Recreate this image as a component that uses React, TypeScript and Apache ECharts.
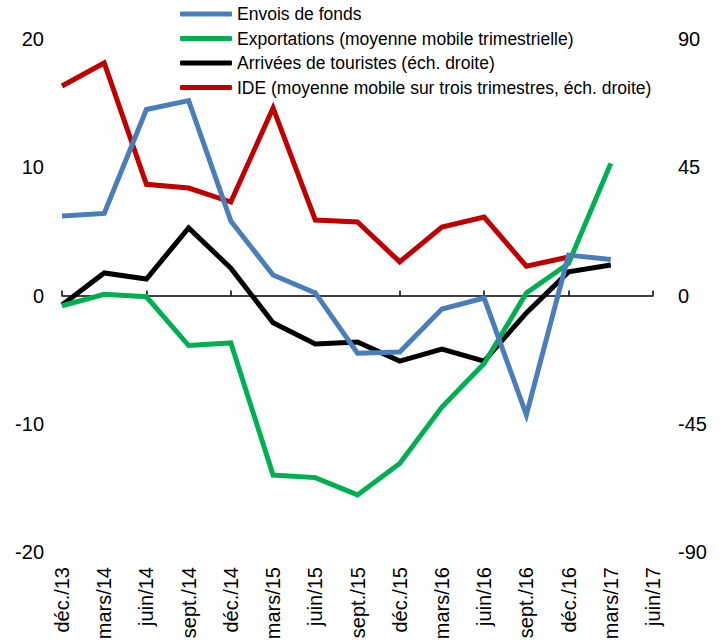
import React, { useEffect, useRef } from "react";
import * as echarts from "echarts";

const categories = ["déc./13", "mars/14", "juin/14", "sept./14", "déc./14", "mars/15", "juin/15", "sept./15", "déc./15", "mars/16", "juin/16", "sept./16", "déc./16", "mars/17", "juin/17"];
const envoisDeFonds = [6.2, 6.4, 14.5, 15.2, 5.8, 1.6, 0.2, -4.5, -4.4, -1.05, -0.2, -9.3, 3.15, 2.8, null];
const exportations = [-0.8, 0.1, -0.1, -3.9, -3.7, -14.0, -14.2, -15.55, -13.1, -8.7, -5.3, 0.2, 2.5, 10.3, null];
const arriveesTouristes = [-3.3, 7.9, 5.8, 23.7, 9.6, -9.6, -17, -16.3, -23, -18.8, -23, -6.1, 8.3, 10.7, null];
const ide = [73.5, 81.6, 39, 37.7, 32.8, 65.8, 26.5, 25.8, 11.8, 24, 27.5, 10.3, 13.5, null, null];

const leftTicks = { min: -20, max: 20, interval: 10 };
const rightTicks = { min: -90, max: 90, interval: 45 };

const seriesNames = [
  "Envois de fonds",
  "Exportations (moyenne mobile trimestrielle)",
  "Arrivées de touristes (éch. droite)",
  "IDE (moyenne mobile sur trois trimestres, éch. droite)",
];
const colors = ["#4A7EBB", "#00B050", "#000000", "#C00000"];

export default function App() {
  const ref = useRef<HTMLDivElement>(null);
  useEffect(() => {
    if (!ref.current) return;
    const chart = echarts.init(ref.current, null, { renderer: "svg" });
    const font = "'Liberation Sans', Arial, sans-serif";
    const mk = (i: number, data: (number | null)[], yAxisIndex: number) => ({
      name: seriesNames[i],
      type: "line",
      data,
      xAxisIndex: 0,
      yAxisIndex,
      symbol: "none",
      lineStyle: { color: colors[i], width: 5, join: "miter", cap: "butt" },
      itemStyle: { color: colors[i] },
      z: 10 - i,
    });
    chart.setOption({
      animation: false,
      backgroundColor: "#ffffff",
      grid: { left: 62, right: 68, top: 39, bottom: 89, containLabel: false, outerBoundsMode: "none" },
      legend: {
        orient: "vertical",
        left: 180,
        top: 4,
        padding: 0,
        icon: "roundRect",
        itemWidth: 52,
        itemHeight: 5,
        itemGap: 4.5,
        data: seriesNames,
        textStyle: {
          fontFamily: font,
          fontSize: 17.5,
          lineHeight: 20,
          color: "#000",
        },
      },
      xAxis: [
        {
          type: "category",
          data: categories,
          boundaryGap: false,
          axisLine: { onZero: true, lineStyle: { color: "#000", width: 1.5 } },
          axisTick: { show: true, inside: true, length: 5, lineStyle: { color: "#000", width: 1.5 } },
          axisLabel: { show: false },
          splitLine: { show: false },
        },
        {
          type: "category",
          data: categories,
          boundaryGap: false,
          position: "bottom",
          axisLine: { show: false, onZero: false },
          axisTick: { show: false },
          axisLabel: {
            show: true,
            rotate: 90,
            interval: 0,
            margin: 15,
            fontFamily: font,
            fontSize: 20,
            color: "#000",
          },
          splitLine: { show: false },
        },
      ],
      yAxis: [
        {
          type: "value",
          ...leftTicks,
          position: "left",
          axisLine: { show: false },
          axisTick: { show: false },
          splitLine: { show: false },
          axisLabel: { margin: 18, fontFamily: font, fontSize: 20, color: "#000" },
        },
        {
          type: "value",
          ...rightTicks,
          position: "right",
          axisLine: { show: false },
          axisTick: { show: false },
          splitLine: { show: false },
          axisLabel: { margin: 25, fontFamily: font, fontSize: 20, color: "#000" },
        },
      ],
      series: [
        mk(0, envoisDeFonds, 0),
        mk(1, exportations, 0),
        mk(2, arriveesTouristes, 1),
        mk(3, ide, 1),
      ],
    });
    return () => chart.dispose();
  }, []);
  return (
    <div
      ref={ref}
      style={{ position: "absolute", left: 0, top: 0, width: 721, height: 641, overflow: "hidden" }}
    />
  );
}
